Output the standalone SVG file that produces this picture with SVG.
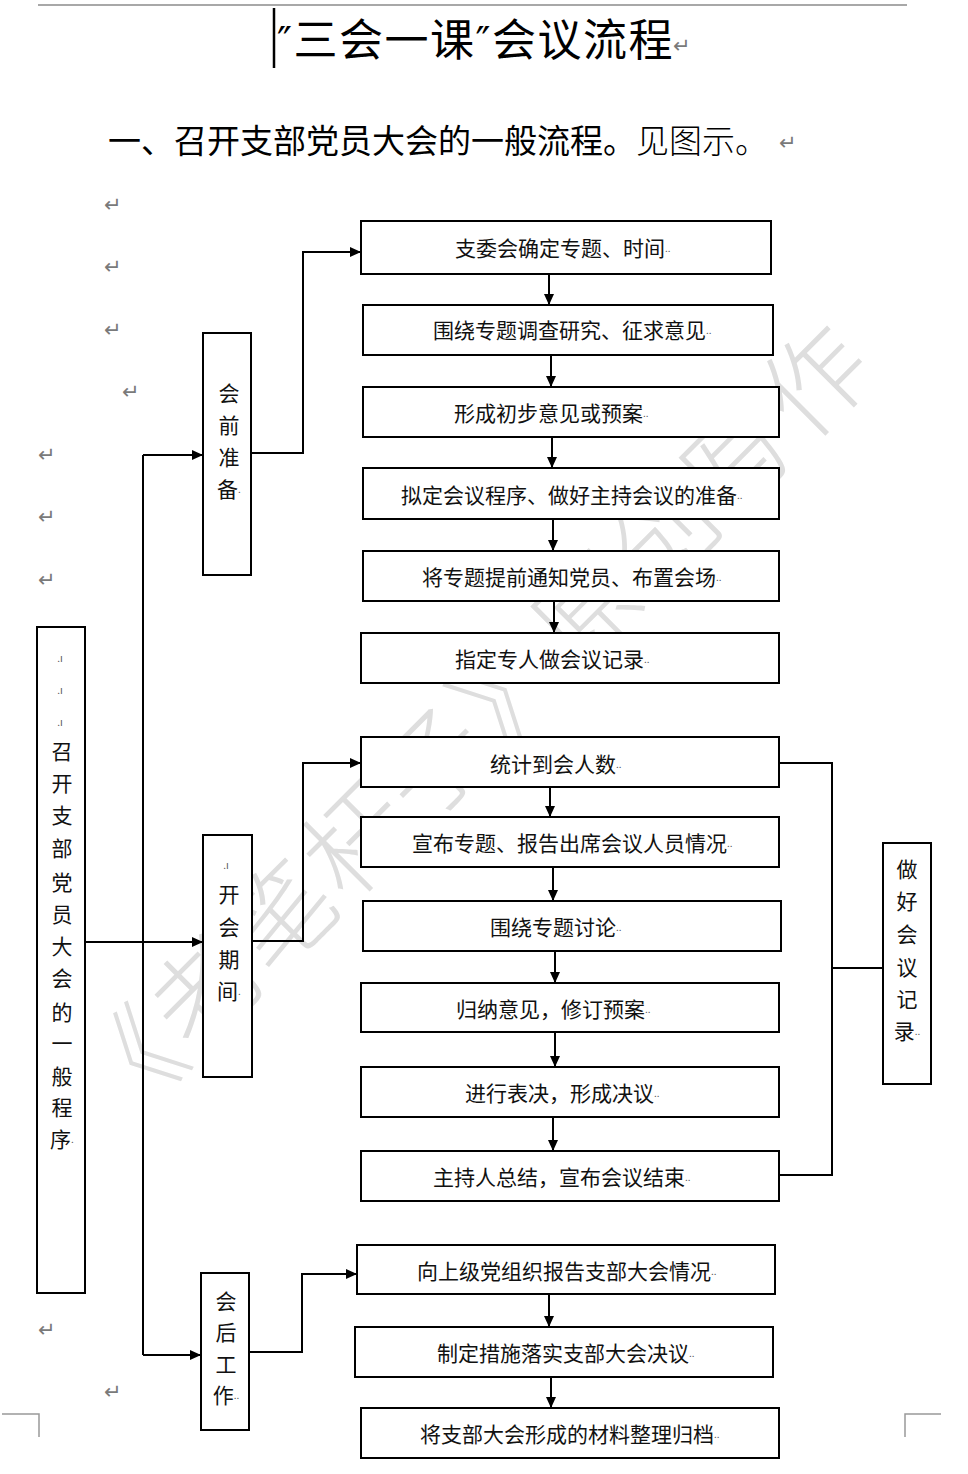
<svg xmlns="http://www.w3.org/2000/svg" width="968" height="1474" viewBox="0 0 968 1474">
<style>
  text { font-family: "Noto Sans CJK SC", "DejaVu Sans", sans-serif; }
  .box { fill: #fff; stroke: #000; stroke-width: 2; }
  .lbl { font-size: 21px; fill: #111; dominant-baseline: central; }
  .vl { font-size: 21px; fill: #111; dominant-baseline: central; text-anchor: middle; }
  .dot { font-size: 10px; fill: #555; }
  .pm { font-size: 21px; fill: #7a7a7a; font-family: "DejaVu Sans", sans-serif; dominant-baseline: central; }
  .ln { fill: none; stroke: #000; stroke-width: 2; }
  .arr { fill: none; stroke: #000; stroke-width: 2; marker-end: url(#ah); }
</style>
<defs>
  <marker id="ah" markerUnits="userSpaceOnUse" markerWidth="12" markerHeight="10" refX="11" refY="5" orient="auto">
    <path d="M0,0 L11,5 L0,10 z" fill="#000"/>
  </marker>
</defs>
<rect width="968" height="1474" fill="#fff"/>

<!-- watermark -->
<text x="468" y="718" transform="rotate(-45 468 718)" font-size="104" fill="#dedede" text-anchor="middle" dominant-baseline="central" font-weight="300" letter-spacing="4">《老笔杆子》原创写作</text>

<!-- page decorations -->
<line x1="38" y1="5" x2="907" y2="5" stroke="#a8a8a8" stroke-width="2"/>
<line x1="274" y1="8" x2="274" y2="68" stroke="#000" stroke-width="2.5"/>
<path d="M2,1414 H39 V1437" fill="none" stroke="#999" stroke-width="1.5"/>
<path d="M941,1414 H905 V1437" fill="none" stroke="#999" stroke-width="1.5"/>

<!-- headings -->
<text x="277" y="56" font-size="44" fill="#000" letter-spacing="1.5"><tspan font-family="DejaVu Sans" font-size="40">″</tspan>三会一课<tspan font-family="DejaVu Sans" font-size="40">″</tspan>会议流程</text>
<text class="pm" x="673" y="46">↵</text>
<text x="108" y="139" font-size="33" fill="#000" dominant-baseline="central" font-weight="400">一、召开支部党员大会的一般流程。<tspan font-weight="300">见图示。</tspan></text>
<text class="pm" x="779" y="143">↵</text>

<!-- paragraph marks -->
<text class="pm" x="104" y="205">↵</text>
<text class="pm" x="104" y="267">↵</text>
<text class="pm" x="104" y="330">↵</text>
<text class="pm" x="122" y="392">↵</text>
<text class="pm" x="38" y="455">↵</text>
<text class="pm" x="38" y="517">↵</text>
<text class="pm" x="38" y="580">↵</text>
<text class="pm" x="38" y="1330">↵</text>
<text class="pm" x="104" y="1392">↵</text>

<!-- connectors -->
<g id="connectors">
  <line class="ln" x1="143" y1="455" x2="143" y2="1355"/>
  <line class="arr" x1="143" y1="455" x2="203" y2="455"/>
  <line class="arr" x1="85" y1="942" x2="203" y2="942"/>
  <line class="arr" x1="143" y1="1355" x2="201" y2="1355"/>
  <polyline class="arr" points="251,453 303,453 303,252 361,252"/>
  <polyline class="arr" points="252,941 303,941 303,763 361,763"/>
  <polyline class="arr" points="249,1352 302,1352 302,1274 357,1274"/>
  <line class="arr" x1="549" y1="274" x2="549" y2="305"/>
  <line class="arr" x1="551" y1="355" x2="551" y2="387"/>
  <line class="arr" x1="552" y1="437" x2="552" y2="468"/>
  <line class="arr" x1="553" y1="519" x2="553" y2="551"/>
  <line class="arr" x1="554" y1="601" x2="554" y2="633"/>
  <line class="arr" x1="550" y1="787" x2="550" y2="817"/>
  <line class="arr" x1="553" y1="867" x2="553" y2="901"/>
  <line class="arr" x1="555" y1="951" x2="555" y2="983"/>
  <line class="arr" x1="555" y1="1032" x2="555" y2="1067"/>
  <line class="arr" x1="553" y1="1117" x2="553" y2="1151"/>
  <line class="arr" x1="549" y1="1294" x2="549" y2="1327"/>
  <line class="arr" x1="551" y1="1377" x2="551" y2="1408"/>
  <polyline class="ln" points="779,763 832,763 832,1175 779,1175"/>
  <line class="ln" x1="832" y1="968" x2="883" y2="968"/>
</g>

<!-- left column -->
<g id="main">
  <rect class="box" x="37" y="627" width="48" height="666"/>
  <text class="vl" style="font-size:10px;fill:#555" x="60"><tspan x="60" y="657">.ı</tspan><tspan x="60" y="689">.ı</tspan><tspan x="60" y="721">.ı</tspan></text>
  <text class="vl" x="62"><tspan x="62" y="750">召</tspan><tspan x="62" y="782">开</tspan><tspan x="62" y="814">支</tspan><tspan x="62" y="847">部</tspan><tspan x="62" y="881">党</tspan><tspan x="62" y="913">员</tspan><tspan x="62" y="945">大</tspan><tspan x="62" y="977">会</tspan><tspan x="62" y="1011">的</tspan><tspan x="62" y="1042">一</tspan><tspan x="62" y="1075">般</tspan><tspan x="62" y="1106">程</tspan><tspan x="62" y="1138">序<tspan class="dot">.</tspan></tspan></text>
</g>
<g id="pre">
  <rect class="box" x="203" y="333" width="48" height="242"/>
  <text class="vl" x="229"><tspan x="229" y="392">会</tspan><tspan x="229" y="424">前</tspan><tspan x="229" y="456">准</tspan><tspan x="229" y="488">备<tspan class="dot">.</tspan></tspan></text>
</g>
<g id="during">
  <rect class="box" x="203" y="835" width="49" height="242"/>
  <text class="vl" style="font-size:10px;fill:#555" x="226"><tspan x="226" y="864">.ı</tspan></text>
  <text class="vl" x="229"><tspan x="229" y="893">开</tspan><tspan x="229" y="926">会</tspan><tspan x="229" y="958">期</tspan><tspan x="229" y="990">间<tspan class="dot">.</tspan></tspan></text>
</g>
<g id="post">
  <rect class="box" x="201" y="1273" width="48" height="157"/>
  <text class="vl" x="226"><tspan x="226" y="1300">会</tspan><tspan x="226" y="1331">后</tspan><tspan x="226" y="1363">工</tspan><tspan x="226" y="1394">作<tspan class="dot">..</tspan></tspan></text>
</g>

<!-- pre-meeting steps -->
<g id="p1"><rect class="box" x="361" y="221" width="410" height="53"/><text class="lbl" x="455" y="247">支委会确定专题、时间<tspan class="dot">..</tspan></text></g>
<g id="p2"><rect class="box" x="363" y="305" width="410" height="50"/><text class="lbl" x="433" y="329">围绕专题调查研究、征求意见<tspan class="dot">..</tspan></text></g>
<g id="p3"><rect class="box" x="363" y="387" width="416" height="50"/><text class="lbl" x="454" y="412">形成初步意见或预案<tspan class="dot">..</tspan></text></g>
<g id="p4"><rect class="box" x="363" y="468" width="416" height="51"/><text class="lbl" x="401" y="494">拟定会议程序、做好主持会议的准备<tspan class="dot">..</tspan></text></g>
<g id="p5"><rect class="box" x="363" y="551" width="416" height="50"/><text class="lbl" x="422" y="576">将专题提前通知党员、布置会场<tspan class="dot">..</tspan></text></g>
<g id="p6"><rect class="box" x="361" y="633" width="418" height="50"/><text class="lbl" x="455" y="658">指定专人做会议记录<tspan class="dot">..</tspan></text></g>

<!-- meeting steps -->
<g id="m1"><rect class="box" x="361" y="737" width="418" height="50"/><text class="lbl" x="490" y="763">统计到会人数<tspan class="dot">..</tspan></text></g>
<g id="m2"><rect class="box" x="361" y="817" width="418" height="50"/><text class="lbl" x="412" y="842">宣布专题、报告出席会议人员情况<tspan class="dot">..</tspan></text></g>
<g id="m3"><rect class="box" x="363" y="901" width="418" height="50"/><text class="lbl" x="490" y="926">围绕专题讨论<tspan class="dot">..</tspan></text></g>
<g id="m4"><rect class="box" x="361" y="983" width="418" height="49"/><text class="lbl" x="456" y="1008">归纳意见，修订预案<tspan class="dot">..</tspan></text></g>
<g id="m5"><rect class="box" x="361" y="1067" width="418" height="50"/><text class="lbl" x="465" y="1092">进行表决，形成决议<tspan class="dot">..</tspan></text></g>
<g id="m6"><rect class="box" x="361" y="1151" width="418" height="50"/><text class="lbl" x="433" y="1176">主持人总结，宣布会议结束<tspan class="dot">..</tspan></text></g>

<g id="record">
  <rect class="box" x="883" y="843" width="48" height="241"/>
  <text class="vl" x="907"><tspan x="907" y="868">做</tspan><tspan x="907" y="900">好</tspan><tspan x="907" y="933">会</tspan><tspan x="907" y="966">议</tspan><tspan x="907" y="998">记</tspan><tspan x="907" y="1030">录<tspan class="dot">..</tspan></tspan></text>
</g>

<!-- post-meeting steps -->
<g id="a1"><rect class="box" x="357" y="1245" width="418" height="49"/><text class="lbl" x="417" y="1270">向上级党组织报告支部大会情况<tspan class="dot">..</tspan></text></g>
<g id="a2"><rect class="box" x="355" y="1327" width="418" height="50"/><text class="lbl" x="437" y="1352">制定措施落实支部大会决议<tspan class="dot">..</tspan></text></g>
<g id="a3"><rect class="box" x="361" y="1408" width="418" height="50"/><text class="lbl" x="420" y="1433">将支部大会形成的材料整理归档<tspan class="dot">..</tspan></text></g>
</svg>
